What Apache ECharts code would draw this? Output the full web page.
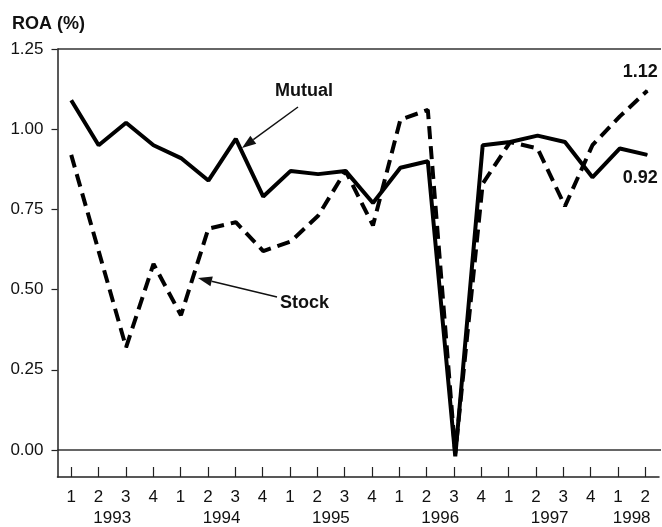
<!DOCTYPE html>
<html><head><meta charset="utf-8">
<script src="https://cdn.jsdelivr.net/npm/echarts@6/dist/echarts.min.js"></script>
<style>html,body{margin:0;padding:0;background:#fff}#c{width:662px;height:527px}</style>
</head><body><div id="c"></div>
<script>
const quarters = ['1','2','3','4','1','2','3','4','1','2','3','4','1','2','3','4','1','2','3','4','1','2'];
const years = ['1993','1994','1995','1996','1997','1998'];
const yearQuarterCounts = [4,4,4,4,4,2];
const mutual = [1.09,0.95,1.02,0.95,0.91,0.84,0.97,0.79,0.87,0.86,0.87,0.77,0.88,0.90,-0.02,0.95,0.96,0.98,0.96,0.85,0.94,0.92];
const stock  = [0.92,0.62,0.32,0.58,0.42,0.69,0.71,0.62,0.65,0.73,0.87,0.70,1.03,1.06,-0.01,0.83,0.96,0.94,0.76,0.95,1.04,1.12];
const yTicks = [0, 0.25, 0.5, 0.75, 1.0, 1.25];

// year label axis: half-quarter steps so a year label sits at the centre of its quarters
const yearCats = new Array(quarters.length * 2 + 1).fill('');
let qStart = 0;
years.forEach((y, i) => { yearCats[2 * qStart + yearQuarterCounts[i]] = y; qStart += yearQuarterCounts[i]; });

const FONT = 'Liberation Sans, Arial, Helvetica, sans-serif';
const INK = '#111';
const chart = echarts.init(document.getElementById('c'), null, {renderer: 'canvas'});

function arrow(x1, y1, x2, y2) {
  const ang = Math.atan2(y2 - y1, x2 - x1), len = 14, hw = 5;
  const bx = x2 - len * Math.cos(ang), by = y2 - len * Math.sin(ang);
  const px = -Math.sin(ang) * hw, py = Math.cos(ang) * hw;
  return [
    {type: 'line', shape: {x1, y1, x2: bx, y2: by}, style: {stroke: INK, lineWidth: 1.5}},
    {type: 'polygon', shape: {points: [[x2, y2], [bx + px, by + py], [bx - px, by - py]]}, style: {fill: INK}}
  ];
}

function lastLabel(arr, pos, dist) {
  return arr.map((v, i) => i === arr.length - 1
    ? {value: v, symbol: 'circle', symbolSize: 1,
       label: {show: true, position: pos, distance: dist, offset: [-7, 0], formatter: p => p.value.toFixed(2),
        fontFamily: FONT, fontSize: 18, fontWeight: 'bold', color: INK}}
    : {value: v, symbol: 'none'});
}

const L = 57.5, R = 1, TOP = 49;
const option = {
  animation: false,
  backgroundColor: '#fff',
  title: {text: 'ROA (%)', left: 12, top: 15, padding: 0,
    textStyle: {fontFamily: FONT, fontSize: 18, fontWeight: 'bold', color: INK}},
  grid: [
    {left: L, right: R, top: TOP, bottom: 77},
    {left: L, right: R, top: TOP, bottom: 45}
  ],
  xAxis: [
    {gridIndex: 0, type: 'category', data: quarters, boundaryGap: true, show: false},
    {gridIndex: 1, type: 'category', data: quarters, boundaryGap: true, position: 'bottom',
      axisLine: {show: true, onZero: false, lineStyle: {color: '#222', width: 1.5}},
      axisTick: {show: true, inside: true, length: 10, alignWithLabel: true, interval: 0, lineStyle: {color: '#222', width: 1.2}},
      axisLabel: {interval: 0, margin: 12, fontSize: 17, color: INK, fontFamily: FONT},
      splitLine: {show: false}},
    {gridIndex: 1, type: 'category', data: yearCats, boundaryGap: false, position: 'bottom', offset: 20,
      axisLine: {show: false, onZero: false}, axisTick: {show: false},
      axisLabel: {interval: 0, margin: 13, fontSize: 17, color: INK, fontFamily: FONT},
      splitLine: {show: false}}
  ],
  yAxis: [
    {gridIndex: 0, type: 'value', min: yTicks[0], max: yTicks[yTicks.length - 1], interval: 0.25,
      axisLine: {show: false},
      axisTick: {show: true, length: 6, lineStyle: {color: '#222', width: 1.2}},
      axisLabel: {fontSize: 17, margin: 14, color: INK, fontFamily: FONT, formatter: v => v.toFixed(2)},
      splitLine: {show: true, lineStyle: {width: 1.5,
        color: yTicks.map((t, i) => (i === 0 || i === yTicks.length - 1) ? '#333' : 'rgba(0,0,0,0)')}}},
    {gridIndex: 1, type: 'value', min: -0.1, max: 1.25,
      axisLine: {show: true, onZero: false, lineStyle: {color: '#222', width: 1.5}},
      axisTick: {show: false}, axisLabel: {show: false}, splitLine: {show: false}}
  ],
  series: [
    {type: 'line', name: 'Mutual', xAxisIndex: 0, yAxisIndex: 0, data: lastLabel(mutual, 'bottom', 14),
      showSymbol: true, symbol: 'none', itemStyle: {color: '#000'}, clip: false, z: 3,
      lineStyle: {color: '#000', width: 4}},
    {type: 'line', name: 'Stock', xAxisIndex: 0, yAxisIndex: 0, data: lastLabel(stock, 'top', 9),
      showSymbol: true, symbol: 'none', itemStyle: {color: '#000'}, clip: false, z: 3,
      lineStyle: {color: '#000', width: 4, type: [13, 7]}}
  ],
  graphic: [
    {type: 'text', left: 275, top: 82, style: {text: 'Mutual', font: 'bold 18px ' + FONT, fill: INK}},
    {type: 'text', left: 280, top: 294, style: {text: 'Stock', font: 'bold 18px ' + FONT, fill: INK}},
    ...arrow(298, 107, 242, 148),
    ...arrow(277, 297, 198, 278)
  ]
};
chart.setOption(option);
</script>
</body></html>
